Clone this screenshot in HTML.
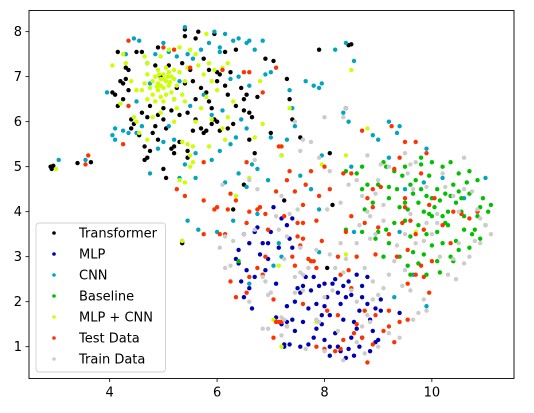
<!DOCTYPE html>
<html><head><meta charset="utf-8"><style>
html,body{margin:0;padding:0;background:#fff;}
svg{display:block;font-family:"DejaVu Sans","Liberation Sans",sans-serif;}
</style></head><body>
<svg id="chart" width="534" height="413" viewBox="0 0 534 413">
<rect x="0" y="0" width="534" height="413" fill="#fff"/>
<g id="marks"></g>
<rect x="29" y="10.5" width="485" height="368" fill="none" stroke="#000" stroke-width="0.9"/>
<g id="axes"></g>
<g id="legend"></g>
</svg>
<script>
const seriesNames = ["Transformer","MLP","CNN","Baseline","MLP + CNN","Test Data","Train Data"];
const seriesColors = ["#000000","#0000b4","#00a5c0","#00c000","#ccff00","#ff3300","#cccccc"];
const xTicks = [4,6,8,10];
const yTicks = [1,2,3,4,5,6,7,8];
const transformerPts = [2.9,5.0,2.92,4.95,2.95,5.02,3.4,5.08,3.65,5.1,7.9,7.6,8.45,7.7,8.5,7.72,8.4,6.3,8.1,5.3,8.15,4.15,8.05,2.75,7.3,6.95,7.35,6.5,7.25,4.25,6.3,4.05,6.5,4.6,5.35,3.3,7.0,5.75,6.9,7.4,7.05,7.35,7.55,5.65,7.4,6.05,
4.15,7.55,4.3,7.2,4.35,7.15,4.2,6.9,4.25,6.85,4.05,6.65,4.1,6.6,4.15,6.35,4.25,6.5,4.35,6.7,4.4,6.05,4.45,5.95,4.4,5.85,4.55,5.7,4.65,5.45,4.7,5.2,4.65,5.15,4.75,5.35,4.6,6.2,4.8,5.75,4.9,5.6,5.0,4.95,5.05,4.75,5.15,5.4,5.2,5.3,5.3,5.55,5.45,5.35,5.45,5.2,5.55,5.8,5.7,5.85,5.8,5.8,5.9,5.95,5.95,6.05,6.0,6.0,5.6,6.05,5.45,6.2,5.3,6.15,5.15,6.25,5.0,6.05,4.9,6.15,4.75,6.35,5.05,5.85,5.2,5.45,4.5,7.55,4.6,7.55,4.9,7.65,5.1,7.25,5.35,7.3,5.4,7.9,5.4,8.05,5.6,7.85,5.65,8.0,5.75,7.4,5.85,7.15,5.95,7.95,6.05,7.05,6.15,7.55,6.35,7.6,6.25,7.1,6.15,6.8,6.2,6.6,6.35,6.35,6.5,6.25,6.6,6.2,6.65,6.1,6.55,6.6,6.45,6.75,6.5,6.5,5.8,6.65,5.7,6.75,5.85,6.45,5.9,6.3,5.6,6.5,5.55,6.9,5.4,6.85,5.25,6.75,4.95,7.0,4.85,7.25,6.0,7.1,5.5,7.15,6.2,5.85,6.3,5.95,6.05,5.8,5.75,5.75,4.3,6.95,6.75,6.55,6.6,5.6,6.7,5.3,6.0,6.9,4.85,5.9,4.7,6.1,5.0,6.3];
const mlpPts = [6.5,3.5,6.6,3.3,6.4,3.15,6.35,2.95,6.4,2.85,6.55,2.7,6.6,2.3,6.5,2.1,6.65,1.85,6.7,2.55,6.8,3.05,6.85,3.3,6.75,3.65,6.95,3.3,7.0,3.55,7.05,4.1,7.2,3.85,7.3,3.7,7.35,3.4,7.4,3.2,6.9,2.7,6.95,2.95,7.1,2.4,7.1,1.65,7.2,1.5,7.25,1.0,7.3,1.55,7.4,1.6,7.45,2.0,7.5,2.3,7.55,2.2,7.6,2.35,7.45,1.35,7.55,1.0,7.7,1.05,7.8,1.2,7.7,1.85,7.75,2.25,7.8,2.55,7.9,2.35,7.85,1.95,7.95,1.5,7.85,1.4,8.0,1.9,8.05,2.1,8.1,1.7,8.15,2.4,8.2,2.5,8.25,2.2,8.3,1.95,8.35,1.6,8.2,1.3,8.1,1.0,8.3,0.9,8.4,0.75,8.45,0.95,8.5,1.2,8.55,1.55,8.6,1.4,8.65,1.8,8.7,2.1,8.5,2.15,8.45,2.45,8.6,2.6,8.7,2.35,8.8,1.95,8.85,1.6,8.9,1.35,8.95,1.1,9.0,1.15,8.85,0.9,8.7,1.2,8.65,1.0,8.25,1.0,8.8,2.55,8.95,1.85,9.05,2.05,9.05,1.8,8.35,2.35,8.4,2.1,8.0,2.4,7.65,2.55,7.6,1.55,7.3,1.9,7.35,1.05,7.25,1.05,8.55,0.8,8.1,0.8,9.4,1.75,8.0,1.15,7.95,1.7,7.4,3.85,7.15,3.2,6.7,3.55,6.45,2.45];
const cnnPts = [3.05,5.15,3.55,5.15,3.95,6.65,4.05,5.7,4.1,5.6,4.1,5.85,4.3,7.5,4.45,7.85,4.55,7.8,4.5,6.45,4.5,5.75,4.75,4.85,4.7,7.3,4.85,7.5,5.0,7.75,5.1,7.55,5.25,7.45,5.45,7.5,5.4,8.1,5.85,7.75,5.95,8.0,6.05,7.65,6.15,7.95,6.4,7.85,6.55,7.75,6.6,7.8,6.85,7.8,6.3,7.8,5.7,7.6,5.55,7.4,6.05,7.55,5.3,6.9,5.2,6.5,5.5,6.35,5.9,6.15,6.1,6.25,6.45,6.05,6.55,5.85,6.35,5.65,6.25,5.5,6.05,5.35,5.9,5.15,5.6,5.3,5.4,5.05,5.2,5.6,5.0,5.55,4.9,5.4,5.1,5.9,5.3,4.75,5.6,4.75,6.15,4.65,6.4,4.85,6.65,5.05,6.75,4.95,6.55,4.55,6.95,4.7,7.0,5.65,7.2,5.25,7.3,5.6,7.45,5.9,7.35,6.7,7.4,6.3,7.65,6.9,7.8,6.8,7.95,6.85,7.9,6.75,8.2,7.6,8.35,6.2,8.45,6.0,8.55,7.35,8.4,7.75,8.9,5.7,9.2,6.0,9.35,5.75,9.4,5.9,9.2,5.2,9.0,5.6,9.9,5.4,10.2,4.75,10.6,4.3,11.0,4.75,9.85,4.65,9.4,3.55,9.5,4.5,8.5,5.0,8.55,3.55,7.9,4.05,7.95,5.25,7.75,4.5,7.55,4.8,6.75,3.95,6.3,3.8,5.45,3.8,5.65,3.6,5.35,3.35,6.0,3.55,7.15,3.3,7.2,3.0,7.05,2.8,6.6,2.4,7.9,3.1,9.3,2.1,9.65,2.6,9.9,1.9,7.0,7.1,6.7,7.6,6.4,7.0,6.6,6.8,4.25,5.8,4.75,6.85,4.35,5.75,4.6,5.9,5.75,6.6,6.9,7.05,6.25,6.95];
const baselinePts = [8.7,5.0,8.8,4.6,8.7,4.5,8.9,4.2,9.0,4.6,9.1,5.1,9.15,5.0,9.2,4.3,9.3,4.9,9.45,4.8,9.35,4.5,9.5,4.2,9.55,4.05,9.6,4.6,9.65,4.4,9.7,4.7,9.75,4.2,9.8,4.5,9.85,4.0,9.9,4.35,9.95,3.95,10.0,4.3,10.05,4.1,10.1,4.5,10.15,4.25,10.2,3.9,10.25,4.4,10.3,4.0,10.35,4.35,10.4,4.6,10.45,4.2,10.5,4.45,10.55,4.3,10.6,3.9,10.65,4.65,10.7,4.4,10.75,3.5,10.8,3.6,10.85,3.9,10.9,4.1,10.95,4.3,11.05,4.0,11.1,4.15,11.0,3.7,10.9,3.4,10.7,3.2,10.5,3.15,10.35,3.0,10.2,3.3,10.1,2.9,10.0,3.25,9.9,3.5,9.75,3.7,9.6,3.45,9.5,3.8,9.65,3.1,9.55,2.8,9.75,2.85,9.6,2.6,9.9,2.6,10.15,2.65,10.4,2.9,9.3,3.75,9.15,3.6,9.2,3.3,9.0,3.55,8.95,3.4,8.7,3.55,8.4,3.6,9.1,3.0,9.5,5.0,9.8,5.05,10.0,5.1,10.2,5.0,10.35,5.1,10.5,4.85,10.7,4.9,10.85,4.7,9.8,5.2,9.95,4.8,8.6,4.85,8.75,4.05,8.4,4.9,9.2,4.55,9.4,4.1,10.6,3.6,10.1,3.55,10.3,3.7,10.45,3.35,9.85,3.05,9.4,3.0,6.4,2.9,10.0,3.9,10.25,3.75,10.55,4.0];
const mlpCnnPts = [4.8,6.9,4.85,7.0,4.9,6.85,4.95,6.95,5.0,7.05,5.05,6.9,5.1,6.8,5.15,7.0,5.2,6.95,4.75,6.75,4.8,6.6,4.9,6.7,5.0,6.75,5.05,6.6,5.15,6.65,5.25,6.8,5.3,7.1,5.2,7.15,5.05,7.2,4.9,7.15,4.7,7.05,4.65,6.85,4.6,6.7,4.7,6.5,4.85,6.45,5.0,6.45,5.2,6.5,5.35,6.6,5.4,6.9,5.45,7.2,4.95,6.55,5.1,7.1,4.95,6.8,5.0,6.95,4.88,6.78,5.12,6.88,5.08,7.0,4.92,7.05,4.5,6.7,4.4,6.9,4.3,7.3,4.25,7.5,4.05,7.25,4.2,6.4,4.35,6.35,4.5,6.0,4.55,5.75,4.7,5.6,4.8,6.1,4.95,6.2,5.2,6.0,5.35,5.55,5.45,5.5,5.5,5.25,5.55,5.1,5.3,4.7,5.4,4.65,5.5,5.0,5.6,6.0,5.7,6.3,5.8,6.55,5.9,6.9,5.95,7.15,5.75,7.05,5.65,7.25,5.6,7.5,5.85,7.3,5.5,7.6,5.3,7.65,5.1,7.6,4.95,7.45,4.65,7.45,4.7,7.3,6.1,7.2,6.2,7.3,6.0,6.7,5.9,6.05,5.85,5.45,6.1,5.85,6.15,5.6,6.3,6.45,6.2,6.1,5.8,7.95,6.8,6.9,6.85,5.95,6.7,5.65,7.35,6.3,7.2,5.25,6.6,4.75,6.35,4.35,8.5,7.15,8.8,5.85,8.4,5.25,7.95,5.05,7.15,2.8,7.05,1.6,7.2,1.0,5.35,3.35,3.0,4.95,9.7,3.55,8.4,3.05,7.85,1.55,5.55,5.45,4.45,6.1,5.25,6.3,5.4,6.45];
const testPts = [3.6,5.25,3.55,5.05,4.25,5.5,4.35,6.35,4.35,7.8,5.0,7.65,5.2,7.6,5.5,7.2,6.1,7.15,6.5,7.1,6.6,7.1,7.1,7.2,6.85,6.65,7.15,5.45,7.2,5.45,6.55,5.1,5.75,5.1,5.25,4.5,5.4,4.35,5.75,4.25,6.0,4.1,5.95,4.05,6.25,4.4,6.35,4.25,6.2,4.05,6.6,4.0,6.75,4.05,6.8,4.1,6.9,3.95,6.55,3.75,6.95,3.6,7.1,4.45,7.3,4.7,7.45,4.45,7.6,4.15,7.5,3.75,7.25,3.9,7.5,3.45,7.6,3.4,7.55,3.25,7.7,2.95,7.75,2.9,7.8,2.9,7.85,2.75,7.6,3.75,7.85,3.8,7.4,3.0,7.45,2.8,6.85,2.6,6.75,2.75,6.6,2.55,6.25,2.45,6.35,2.1,6.15,3.5,6.05,3.5,5.75,3.5,6.55,2.2,7.05,2.05,7.2,1.55,7.05,1.2,7.15,1.55,7.6,1.95,7.85,1.0,8.05,1.8,8.25,1.7,8.3,0.95,8.35,1.15,8.55,1.3,8.7,1.2,8.8,0.65,8.9,1.05,9.1,1.35,9.3,1.1,9.2,1.45,9.2,1.8,8.95,1.7,8.75,1.8,8.95,3.05,8.6,3.0,8.45,2.7,8.3,2.6,8.25,3.0,8.4,3.55,8.5,3.9,8.8,4.3,8.75,3.75,9.0,3.65,9.2,3.5,8.9,4.1,8.9,4.5,9.05,4.55,9.3,4.95,9.4,5.2,9.5,4.3,9.5,4.1,9.6,3.8,9.7,3.5,9.55,3.15,9.35,3.0,9.55,2.4,9.7,2.6,9.85,2.55,9.95,2.2,9.8,2.8,9.85,3.6,9.95,4.15,10.05,4.3,9.9,5.3,9.8,4.85,9.7,5.55,9.5,5.55,9.25,5.9,8.7,5.8,8.5,4.85,8.35,4.85,8.1,4.5,7.9,4.35,7.75,4.9,8.0,5.0,7.65,4.6,7.35,4.9,10.4,4.0,10.55,3.95,10.2,3.7,10.85,4.0,10.7,3.85,10.35,3.3,10.0,2.9,9.4,1.55,9.55,1.6,8.6,1.5,8.5,2.3,7.1,1.55,7.3,1.45,8.0,0.95,8.2,0.9,6.9,3.0,7.95,3.35,9.45,3.75];
const trainPts = [6.15,3.45,6.3,3.35,6.25,2.8,6.15,2.75,6.5,3.5,6.7,3.6,6.85,2.55,6.95,2.15,6.9,2.45,6.6,2.0,6.95,1.4,7.2,1.25,7.25,1.6,7.6,2.25,7.45,2.55,7.55,2.65,7.7,2.75,7.55,3.2,7.3,3.45,7.15,3.6,7.1,3.9,7.35,3.95,7.5,4.05,7.85,3.15,8.1,3.05,8.3,3.3,8.4,2.95,8.2,2.75,8.6,3.3,8.75,2.75,8.9,2.45,9.0,2.15,9.1,2.3,9.2,2.6,9.3,2.9,9.45,2.35,9.6,2.25,9.75,1.75,9.9,1.8,9.85,2.05,9.65,1.6,9.4,1.2,9.2,1.3,8.8,1.7,8.7,1.45,8.9,2.05,8.6,2.0,8.5,2.25,8.35,2.65,8.0,2.1,7.85,1.6,7.9,1.55,8.0,0.9,8.35,0.7,8.75,0.85,8.85,1.55,7.65,0.95,7.3,1.45,7.2,1.65,6.85,1.4,7.6,2.6,8.05,4.05,8.3,4.2,8.45,4.6,8.7,4.35,8.6,4.7,8.65,3.7,8.85,3.4,8.95,3.5,8.85,3.9,8.95,4.4,9.1,4.15,9.2,5.0,9.05,5.05,8.8,5.25,9.0,4.7,9.5,5.3,9.55,4.85,9.7,5.1,9.65,4.5,9.6,3.95,9.5,3.5,9.35,3.25,9.7,3.3,9.85,3.35,10.0,3.5,10.1,3.75,10.15,3.0,10.3,2.6,10.4,2.95,10.5,3.3,10.6,2.85,10.7,3.0,10.8,3.35,10.9,3.3,11.0,3.7,11.1,3.5,10.9,3.85,10.75,4.45,10.6,4.5,10.5,4.0,10.4,4.35,10.25,4.55,10.1,3.95,9.9,3.75,10.6,5.2,10.85,4.05,10.45,2.5,10.2,4.85,9.9,4.55,9.6,5.05,8.4,6.3,8.35,6.1,8.0,6.1,7.45,6.0,7.75,5.55,7.55,5.35,7.2,4.35,6.75,4.5,6.6,4.7,6.7,5.15,6.05,3.2,6.1,4.6,7.6,5.6,7.9,5.2,8.1,4.9,7.25,2.95,7.0,2.2,7.45,2.2,8.25,1.35,8.15,2.25,8.6,1.1,9.0,1.0,9.5,2.7,9.1,3.8,8.8,4.0];
const allSeries = [transformerPts,mlpPts,cnnPts,baselinePts,mlpCnnPts,testPts,trainPts];

const X0=29,X1=514,Y0=378.5,Y1=10.5, XMIN=2.497, XMAX=11.53, YMIN=0.293, YMAX=8.47;
function sx(v){return X0+(v-XMIN)/(XMAX-XMIN)*(X1-X0);}
function sy(v){return Y0-(v-YMIN)/(YMAX-YMIN)*(Y0-Y1);}
const NS="http://www.w3.org/2000/svg";
function mk(tag,attrs){const e=document.createElementNS(NS,tag);for(const k in attrs)e.setAttribute(k,attrs[k]);return e;}
const marks=document.getElementById('marks');
allSeries.forEach((pts,si)=>{
  const g=mk('g',{});
  
  
  for(let i=0;i+1<pts.length;i+=2){
    const c=mk('circle',{cx:sx(pts[i]).toFixed(1),cy:sy(pts[i+1]).toFixed(1),r:2.2,fill:seriesColors[si]});
    
    
    g.appendChild(c);
  }
  marks.appendChild(g);
});
const axes=document.getElementById('axes');
xTicks.forEach(t=>{
  const x=sx(t);
  const l=mk('line',{x1:x,x2:x,y1:Y0,y2:Y0+3.5,stroke:'#000','stroke-width':0.8});
  
  
  axes.appendChild(l);
  const tx=mk('text',{x:x,y:Y0+18,'text-anchor':'middle','font-size':13,fill:'#000'});
  tx.textContent=t;
  
  
  axes.appendChild(tx);
});
yTicks.forEach(t=>{
  const y=sy(t);
  const l=mk('line',{x1:X0-3.5,x2:X0,y1:y,y2:y,stroke:'#000','stroke-width':0.8});
  
  
  axes.appendChild(l);
  const tx=mk('text',{x:X0-7,y:y+4.5,'text-anchor':'end','font-size':13,fill:'#000'});
  tx.textContent=t;
  
  
  axes.appendChild(tx);
});
const leg=document.getElementById('legend');
const box=mk('rect',{x:36,y:223,width:129.5,height:149,rx:3,fill:'#fff','fill-opacity':0.85,stroke:'#d0d0d0','stroke-width':0.9});


leg.appendChild(box);
seriesNames.forEach((n,i)=>{
  const y=233+i*21;
  const g=mk('g',{});
  
  
  g.appendChild(mk('circle',{cx:54,cy:y,r:1.8,fill:seriesColors[i]}));
  const t=mk('text',{x:79,y:y+4.5,'font-size':13,fill:'#000'});
  t.textContent=n;
  g.appendChild(t);
  leg.appendChild(g);
});
</script>
</body></html>
